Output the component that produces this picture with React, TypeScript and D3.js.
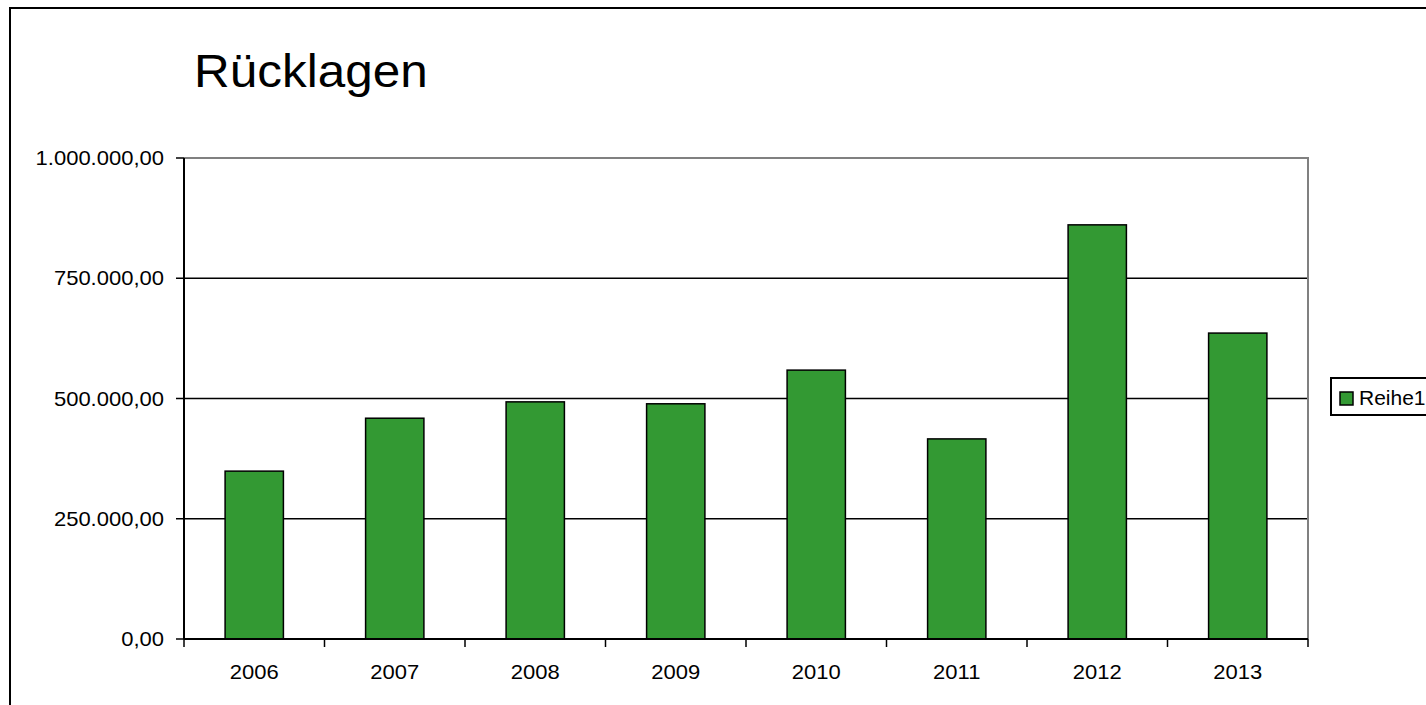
import React from 'react';
import { scaleBand, scaleLinear, formatLocale } from 'd3';

// Rücklagen per year
const years = ['2006', '2007', '2008', '2009', '2010', '2011', '2012', '2013'];
const reihe1 = [349000, 459000, 493000, 489000, 559000, 416000, 861000, 636000];
const yTicks = [0, 250000, 500000, 750000, 1000000];
const seriesName = 'Reihe1';
const title = 'Rücklagen';

const de = formatLocale({ decimal: ',', thousands: '.', grouping: [3], currency: ['', ' €'] });
const fmt = de.format(',.2f');

const W = 1426;
const H = 705;
const plot = { left: 184, right: 1308, top: 158, bottom: 639 };
const font = 'Arial, "Liberation Sans", sans-serif';
const sx = 1.1; // the source picture is a bit stretched sideways

const App = () => {
  const x = scaleBand()
    .domain(years)
    .range([plot.left, plot.right])
    .paddingInner(0.585)
    .paddingOuter(0.2925);
  const xOuter = scaleBand().domain(years).range([plot.left, plot.right]);
  const y = scaleLinear().domain([0, 1000000]).range([plot.bottom, plot.top]);

  return (
    <svg
      width={W}
      height={H}
      style={{ position: 'absolute', left: 0, top: 0, background: '#fff' }}
      fontFamily={font}
    >
      {/* outer frame */}
      <rect x={10} y={8} width={W} height={H} fill="none" stroke="#000" strokeWidth={2} />

      <text transform={`translate(194,87) scale(1.075,1)`} fontSize={46}>{title}</text>

      {/* gridlines */}
      {yTicks.slice(1, -1).map(t => (
        <line key={t} x1={plot.left} x2={plot.right} y1={y(t)} y2={y(t)} stroke="#000" strokeWidth={1.3} />
      ))}
      {/* gray plot border top/right */}
      <path
        d={`M${plot.left},${y(1000000)}H${plot.right}V${plot.bottom}`}
        fill="none"
        stroke="#808080"
        strokeWidth={2}
      />

      {/* bars */}
      {years.map((yr, i) => (
        <rect
          key={yr}
          x={x(yr)}
          y={y(reihe1[i])}
          width={x.bandwidth()}
          height={y(0) - y(reihe1[i])}
          fill="#339933"
          stroke="#000"
          strokeWidth={1.5}
        />
      ))}

      {/* y axis */}
      <line x1={plot.left} x2={plot.left} y1={plot.top} y2={plot.bottom} stroke="#000" strokeWidth={2} />
      {yTicks.map(t => (
        <g key={t}>
          <line x1={plot.left - 8} x2={plot.left} y1={y(t)} y2={y(t)} stroke="#000" strokeWidth={1.5} />
          <text
            transform={`translate(164,${y(t)}) scale(${sx},1)`}
            dy="0.35em"
            fontSize={20}
            textAnchor="end"
          >
            {fmt(t)}
          </text>
        </g>
      ))}

      {/* x axis */}
      <line x1={plot.left} x2={plot.right} y1={plot.bottom} y2={plot.bottom} stroke="#000" strokeWidth={2} />
      {years.map(yr => (
        <line
          key={yr}
          x1={xOuter(yr)}
          x2={xOuter(yr)}
          y1={plot.bottom}
          y2={plot.bottom + 8}
          stroke="#000"
          strokeWidth={1.5}
        />
      ))}
      <line x1={plot.right} x2={plot.right} y1={plot.bottom} y2={plot.bottom + 8} stroke="#000" strokeWidth={1.5} />
      {years.map(yr => (
        <text
          key={yr}
          transform={`translate(${(x(yr) as number) + x.bandwidth() / 2},679) scale(${sx},1)`}
          fontSize={20}
          textAnchor="middle"
        >
          {yr}
        </text>
      ))}

      {/* legend */}
      <rect x={1331} y={378} width={120} height={37} fill="#fff" stroke="#000" strokeWidth={2} />
      <rect x={1340} y={392} width={13} height={13} fill="#339933" stroke="#000" strokeWidth={1.5} />
      <text transform={`translate(1359,405) scale(1.05,1)`} fontSize={20}>{seriesName}</text>
    </svg>
  );
};

export default App;
